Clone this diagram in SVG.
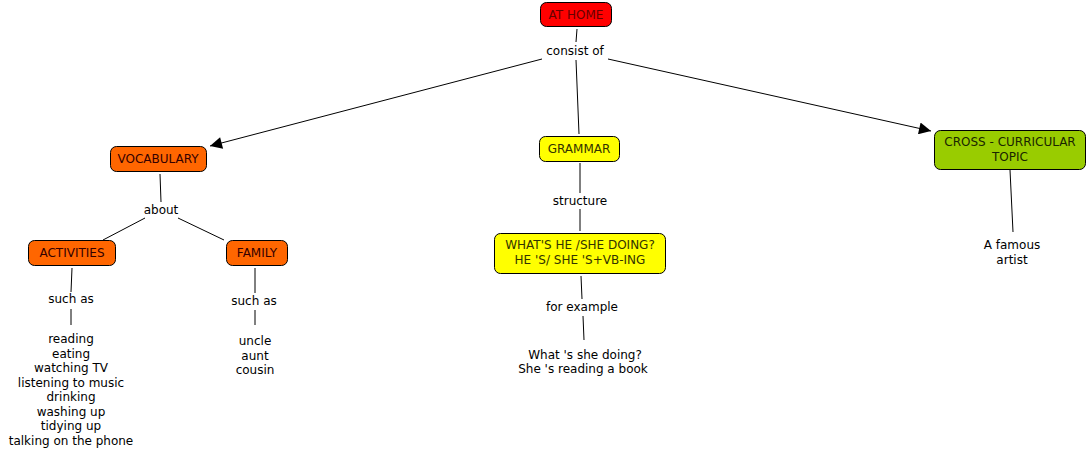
<svg xmlns="http://www.w3.org/2000/svg" width="1088" height="457" viewBox="0 0 1088 457">
<style>
text{font-family:"DejaVu Sans",Verdana,sans-serif;font-size:12px;text-anchor:middle;fill:#000}
.n rect{stroke:#000;stroke-width:1}
.c line{stroke:#000;stroke-width:1}
</style>
<defs>
<marker id="arr" viewBox="0 0 10 10" refX="10" refY="5" markerWidth="14" markerHeight="12" markerUnits="userSpaceOnUse" orient="auto"><path d="M0,0L10,5L0,10z" fill="#000"/></marker>
</defs>
<rect width="1088" height="457" fill="#fff"/>
<g class="c">
<line x1="577" y1="29" x2="576" y2="42"/>
<line x1="576" y1="60" x2="579" y2="134"/>
<line x1="542" y1="59" x2="210" y2="146" marker-end="url(#arr)"/>
<line x1="608" y1="59" x2="931" y2="131" marker-end="url(#arr)"/>
<line x1="160" y1="174" x2="161" y2="202"/>
<line x1="145" y1="218" x2="103" y2="240"/>
<line x1="178" y1="218" x2="224" y2="240"/>
<line x1="72" y1="268" x2="71" y2="292"/>
<line x1="71" y1="309" x2="71" y2="325"/>
<line x1="255" y1="268" x2="255" y2="293"/>
<line x1="255" y1="310" x2="255" y2="325"/>
<line x1="580" y1="163" x2="580" y2="193"/>
<line x1="580" y1="209" x2="580" y2="231"/>
<line x1="581" y1="276" x2="582" y2="299"/>
<line x1="583" y1="316" x2="584" y2="340"/>
<line x1="1010" y1="170" x2="1013" y2="232"/>
</g>
<g id="athome" class="n"><rect x="540.5" y="2.5" width="71" height="24" rx="6" fill="#ff0000"/><text x="576" y="19" style="fill:#660000">AT HOME</text></g>
<g id="consist"><text x="575" y="55">consist of</text></g>
<g id="vocab" class="n"><rect x="110.5" y="146.5" width="96" height="25" rx="6" fill="#ff6600"/><text x="158" y="163" style="fill:#330000">VOCABULARY</text></g>
<g id="grammar" class="n"><rect x="539.5" y="136.5" width="80" height="25" rx="6" fill="#ffff00"/><text x="579" y="153" style="fill:#333300">GRAMMAR</text></g>
<g id="cross" class="n"><rect x="934.5" y="130.5" width="151" height="39" rx="6" fill="#99cc00"/><text x="1010" y="146" style="fill:#1a2600">CROSS - CURRICULAR</text><text x="1010" y="161" style="fill:#1a2600">TOPIC</text></g>
<g id="about"><text x="161" y="214">about</text></g>
<g id="activities" class="n"><rect x="28.5" y="240.5" width="87" height="25" rx="6" fill="#ff6600"/><text x="72" y="257" style="fill:#330000">ACTIVITIES</text></g>
<g id="family" class="n"><rect x="226.5" y="240.5" width="61" height="25" rx="6" fill="#ff6600"/><text x="257" y="257" style="fill:#330000">FAMILY</text></g>
<g id="suchas1"><text x="71" y="303">such as</text></g>
<g id="suchas2"><text x="254" y="305">such as</text></g>
<g id="activitylist">
<text x="71" y="343">reading</text>
<text x="71" y="357.5">eating</text>
<text x="71" y="372">watching TV</text>
<text x="71" y="386.5">listening to music</text>
<text x="71" y="401">drinking</text>
<text x="71" y="415.5">washing up</text>
<text x="71" y="430">tidying up</text>
<text x="71" y="444.5">talking on the phone</text>
</g>
<g id="familylist">
<text x="255" y="345">uncle</text>
<text x="255" y="359.5">aunt</text>
<text x="255" y="374">cousin</text>
</g>
<g id="structure"><text x="580" y="205">structure</text></g>
<g id="whats" class="n"><rect x="494.5" y="233.5" width="171" height="40" rx="6" fill="#ffff00"/><text x="580" y="249" style="fill:#333300">WHAT'S HE /SHE DOING?</text><text x="580" y="264" style="fill:#333300">HE 'S/ SHE 'S+VB-ING</text></g>
<g id="forexample"><text x="582" y="311">for example</text></g>
<g id="example"><text x="585" y="359">What 's she doing?</text><text x="583" y="373">She 's reading a book</text></g>
<g id="artist"><text x="1012" y="249">A famous</text><text x="1012" y="264">artist</text></g>
</svg>
